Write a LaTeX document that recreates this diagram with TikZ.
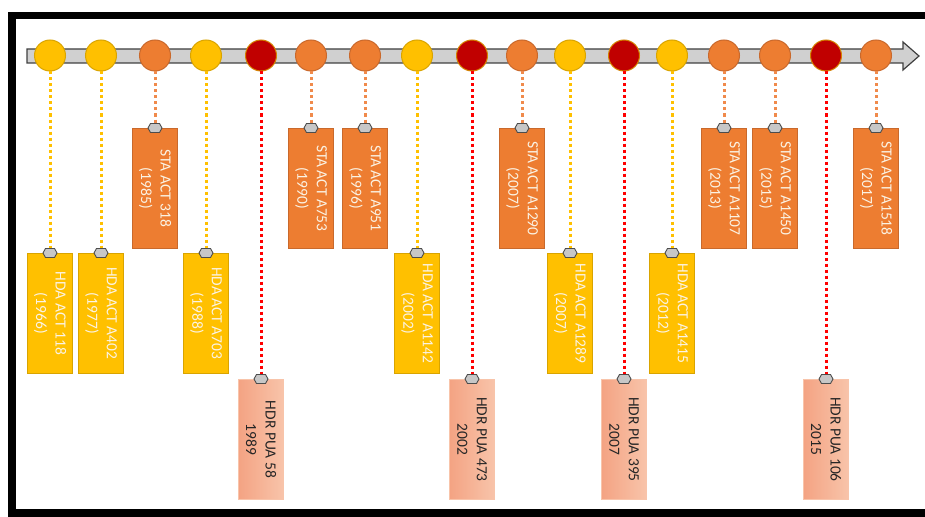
\documentclass[tikz,border=0pt]{standalone}
\usepackage{fontspec}
\setmainfont{Carlito}
\usepackage{tikz}

\definecolor{hdaYellow}{HTML}{FFC000}
\definecolor{hdaEdge}{HTML}{D9A400}
\definecolor{staOrange}{HTML}{ED7D31}
\definecolor{staEdge}{HTML}{C9692C}
\definecolor{staDots}{HTML}{F08A4B}
\definecolor{hdrRed}{HTML}{C00000}
\definecolor{hdrDots}{HTML}{FF0000}
\definecolor{hdrLeft}{HTML}{F4A383}
\definecolor{hdrRight}{HTML}{F8C4AA}
\definecolor{boxText}{HTML}{FBF3E4}
\definecolor{barGrey}{HTML}{D0D0D0}

\tikzset{
  basebox/.style={rotate=-90, anchor=west, minimum width=120pt, minimum height=45pt,
    inner sep=0pt, align=center, line width=0.8pt, font=\fontsize{15.5}{19.5}\selectfont},
  hdabox/.style={basebox, fill=hdaYellow, draw=hdaEdge, text=boxText},
  stabox/.style={basebox, fill=staOrange, draw=staEdge, text=boxText},
  hdrbox/.style={basebox, left color=hdrLeft, right color=hdrRight, draw=hdrRight, text=black!85},
  basedot/.style={circle, minimum size=31pt, inner sep=0pt, line width=1pt},
  hdadot/.style={basedot, fill=hdaYellow, draw=hdaEdge},
  stadot/.style={basedot, fill=staOrange, draw=staEdge},
  hdrdot/.style={basedot, fill=hdrRed, draw=hdaEdge!80!hdrRed},
  baselink/.style={line width=3pt, dash pattern=on 3pt off 3pt},
  hdalink/.style={baselink, draw=hdaYellow},
  stalink/.style={baselink, draw=staDots},
  hdrlink/.style={baselink, draw=hdrDots},
  pinhex/.style={fill=black!22, draw=black!70, line width=0.9pt}
}

\begin{document}
\begin{tikzpicture}[x=1pt,y=-1pt]

  \useasboundingbox (0,0) rectangle (925,516);

  % frame, open to the right
  \draw[line width=7.5pt] (925,15.5) -| (12,513) -- (925,513);

  % time line
  \draw[fill=barGrey, draw=black!75, line width=1.2pt]
    (27,49) -- (903,49) -- (903,42) -- (919,56) -- (903,70) -- (903,63) -- (27,63) -- cycle;

  \foreach \i/\x/\kind/\top/\txt in {
      1/50/hda/253/{HDA ACT 118\\(1966)},
      2/101/hda/253/{HDA ACT A402\\(1977)},
      3/155/sta/128/{STA ACT 318\\(1985)},
      4/206/hda/253/{HDA ACT A703\\(1988)},
      5/261/hdr/379/{HDR PUA 58\\1989},
      6/311/sta/128/{STA ACT A753\\(1990)},
      7/365/sta/128/{STA ACT A951\\(1996)},
      8/417/hda/253/{HDA ACT A1142\\(2002)},
      9/472/hdr/379/{HDR PUA 473\\2002},
      10/522/sta/128/{STA ACT A1290\\(2007)},
      11/570/hda/253/{HDA ACT A1289\\(2007)},
      12/624/hdr/379/{HDR PUA 395\\2007},
      13/672/hda/253/{HDA ACT A1415\\(2012)},
      14/724/sta/128/{STA ACT A1107\\(2013)},
      15/775/sta/128/{STA ACT A1450\\(2015)},
      16/826/hdr/379/{HDR PUA 106\\2015},
      17/876/sta/128/{STA ACT A1518\\(2017)}} {
    \node[\kind dot] (c\i) at (\x,55.5) {};
    \node[\kind box] (b\i) at (\x,\top) {\txt};
    \draw[\kind link] (c\i) -- (b\i.west);
    \filldraw[pinhex] (b\i.west) ++(-7,0) -- ++(2.5,-4.5) -- ++(9,0) -- ++(2.5,4.5)
      -- ++(-2.5,4.5) -- ++(-9,0) -- cycle;
  }

\end{tikzpicture}
\end{document}
